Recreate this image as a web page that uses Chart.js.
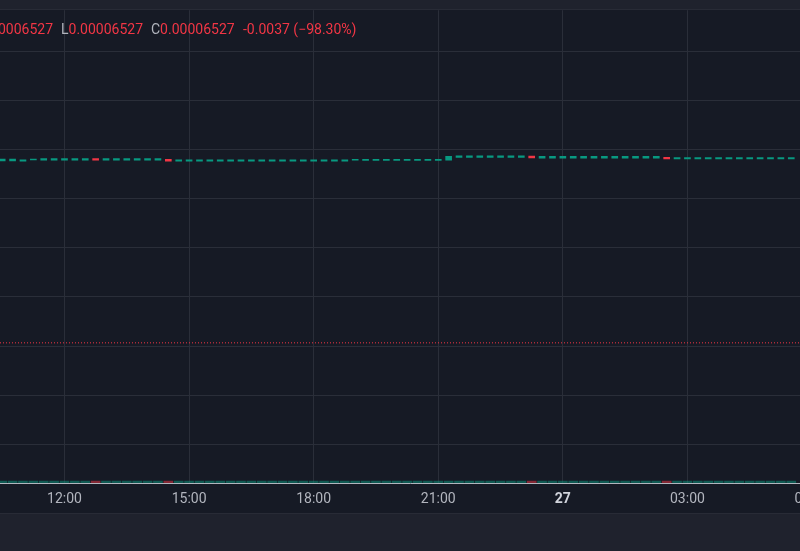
<!DOCTYPE html>
<html lang="es">
<head>
<meta charset="utf-8">
<title>Velas 15m</title>
<script src="https://cdn.jsdelivr.net/npm/chart.js@4.4.1/dist/chart.umd.min.js"></script>
<style>
  html, body { margin: 0; padding: 0; width: 800px; height: 551px; overflow: hidden; background: #1f222d; }
  #wrap { position: relative; width: 900px; height: 513px; }
  #grafico { display: block; }
  #panel { height: 37px; border-top: 1px solid #282b36; background: #1f222d; }
</style>
</head>
<body>
<div id="wrap"><canvas id="grafico" width="900" height="513"></canvas></div>
<div id="panel"></div>
<script>
// Velas de 15 minutos (hora de apertura)
const horas = [
    '10:30', '10:45', '11:00', '11:15', '11:30', '11:45',
    '12:00', '12:15', '12:30', '12:45', '13:00', '13:15', '13:30', '13:45', '14:00', '14:15', '14:30', '14:45',
    '15:00', '15:15', '15:30', '15:45', '16:00', '16:15', '16:30', '16:45', '17:00', '17:15', '17:30', '17:45',
    '18:00', '18:15', '18:30', '18:45', '19:00', '19:15', '19:30', '19:45', '20:00', '20:15', '20:30', '20:45',
    '21:00', '21:15', '21:30', '21:45', '22:00', '22:15', '22:30', '22:45', '23:00', '23:15', '23:30', '23:45',
    '00:00', '00:15', '00:30', '00:45', '01:00', '01:15', '01:30', '01:45', '02:00', '02:15', '02:30', '02:45',
    '03:00', '03:15', '03:30', '03:45', '04:00', '04:15', '04:30', '04:45', '05:00', '05:15', '05:30'
];

const aperturas = [
    0.003768, 0.003768, 0.003762, 0.003786, 0.003782, 0.003782,
    0.003782, 0.003782, 0.003782, 0.003817, 0.003782, 0.003782, 0.003782, 0.003782, 0.003782, 0.003782, 0.003800, 0.003760,
    0.003760, 0.003760, 0.003760, 0.003760, 0.003760, 0.003760, 0.003760, 0.003760, 0.003760, 0.003760, 0.003760, 0.003760,
    0.003760, 0.003760, 0.003760, 0.003760, 0.003780, 0.003775, 0.003775, 0.003775, 0.003775, 0.003775, 0.003775, 0.003775,
    0.003775, 0.003782, 0.003837, 0.003837, 0.003837, 0.003837, 0.003837, 0.003837, 0.003837, 0.003864, 0.003823, 0.003823,
    0.003823, 0.003823, 0.003823, 0.003823, 0.003823, 0.003823, 0.003823, 0.003823, 0.003823, 0.003823, 0.003840, 0.003809,
    0.003809, 0.003809, 0.003809, 0.003809, 0.003809, 0.003809, 0.003809, 0.003809, 0.003809, 0.003809, 0.003809
];

const cierres = [
    0.003803, 0.003803, 0.003788, 0.003793, 0.003817, 0.003817,
    0.003817, 0.003817, 0.003817, 0.003782, 0.003817, 0.003817, 0.003817, 0.003817, 0.003817, 0.003817, 0.003760, 0.003790,
    0.003790, 0.003790, 0.003790, 0.003790, 0.003790, 0.003790, 0.003790, 0.003790, 0.003790, 0.003790, 0.003790, 0.003790,
    0.003790, 0.003790, 0.003790, 0.003790, 0.003788, 0.003800, 0.003800, 0.003800, 0.003800, 0.003800, 0.003800, 0.003800,
    0.003800, 0.003858, 0.003870, 0.003870, 0.003870, 0.003870, 0.003870, 0.003870, 0.003870, 0.003830, 0.003858, 0.003858,
    0.003858, 0.003858, 0.003858, 0.003858, 0.003858, 0.003858, 0.003858, 0.003858, 0.003858, 0.003858, 0.003809, 0.003837,
    0.003837, 0.003837, 0.003837, 0.003837, 0.003837, 0.003837, 0.003837, 0.003837, 0.003837, 0.003837, 0.003837
];

// Volumen casi invisible en la franja inferior
const volumenes = [
    2, 2, 2, 2, 2, 2,
    2, 2, 2, 2, 2, 2, 2, 2, 2, 2, 2, 2,
    2, 2, 2, 2, 2, 2, 2, 2, 2, 2, 2, 2,
    2, 2, 2, 2, 2, 2, 2, 2, 2, 2, 2, 2,
    2, 2, 2, 2, 2, 2, 2, 2, 2, 2, 2, 2,
    2, 2, 2, 2, 2, 2, 2, 2, 2, 2, 2, 2,
    2, 2, 2, 2, 2, 2, 2, 2, 2, 2, 2
];

// Eje de tiempo (horas desde las 00:00 del día 26)
const marcasHora = [12, 15, 18, 21, 24, 27, 30];
const etiquetasHora = ['12:00', '15:00', '18:00', '21:00', '27', '03:00', '06:00'];

// Eje de precio
const marcasPrecio = [-0.002, -0.001, 0, 0.001, 0.002, 0.003, 0.004, 0.005, 0.006];

// Leyenda superior
const ultimoPrecio = 0.00006527;
const textoPrecio = '0.00006527';
const textoCambio = '-0.0037 (\u221298.30%)';

const verde = '#089981';
const rojo = '#f23645';
const gris = '#b2b5be';

const xMin = 10.447;
const xMax = 30.192;

function horaAEje(t) {
    const [h, m] = t.split(':').map(Number);
    const v = h + m / 60;
    return v < 10 ? v + 24 : v; // después de medianoche
}

const velas = horas.map((t, i) => ({ x: horaAEje(t), y: [aperturas[i], cierres[i]] }));
const coloresVelas = horas.map((t, i) => cierres[i] >= aperturas[i] ? verde : rojo);
const barrasVolumen = horas.map((t, i) => ({ x: horaAEje(t), y: volumenes[i] }));
const coloresVolumen = horas.map((t, i) => cierres[i] >= aperturas[i] ? 'rgba(8,153,129,0.5)' : 'rgba(242,54,69,0.5)');

const fondo = {
    id: 'fondo',
    beforeDraw(chart) {
        const c = chart.ctx;
        c.save();
        c.fillStyle = '#161a25';
        c.fillRect(0, 0, chart.width, chart.height);
        c.fillStyle = '#1f222d';
        c.fillRect(0, 0, chart.width, 10);
        c.fillStyle = '#282b36';
        c.fillRect(0, 9, chart.width, 1);
        c.restore();
    },
    afterDraw(chart) {
        const c = chart.ctx;
        c.save();
        c.font = '14px Roboto';
        c.textBaseline = 'middle';
        const y = 30;
        // H (cortado por la izquierda)
        c.textAlign = 'right';
        c.fillStyle = rojo;
        c.fillText(textoPrecio, 53, y);
        c.textAlign = 'left';
        c.fillStyle = gris;
        c.fillText('L', 61, y);
        c.fillStyle = rojo;
        c.fillText(textoPrecio, 61 + c.measureText('L').width, y);
        c.fillStyle = gris;
        c.fillText('C', 151, y);
        c.fillStyle = rojo;
        c.fillText(textoPrecio, 151 + c.measureText('C').width, y);
        c.fillText(textoCambio, 243, y);
        c.restore();
    }
};

const ctx = document.getElementById('grafico').getContext('2d');
new Chart(ctx, {
    data: {
        datasets: [
            {
                type: 'line',
                label: 'Último precio',
                data: [{ x: xMin, y: ultimoPrecio }, { x: xMax, y: ultimoPrecio }],
                yAxisID: 'y',
                borderColor: rojo,
                borderWidth: 1,
                borderDash: [1, 2],
                pointRadius: 0,
                order: 0
            },
            {
                type: 'bar',
                label: 'Velas',
                data: velas,
                yAxisID: 'y',
                backgroundColor: coloresVelas,
                barThickness: 6,
                minBarLength: 1,
                grouped: false,
                order: 1
            },
            {
                type: 'bar',
                label: 'Volumen',
                data: barrasVolumen,
                yAxisID: 'v',
                backgroundColor: coloresVolumen,
                barThickness: 9,
                grouped: false,
                order: 2
            }
        ]
    },
    options: {
        responsive: false,
        animation: false,
        events: [],
        devicePixelRatio: 1,
        layout: { padding: { top: 10, left: 0, right: 0, bottom: 0 } },
        plugins: {
            legend: { display: false },
            tooltip: { enabled: false }
        },
        scales: {
            x: {
                type: 'linear',
                position: 'bottom',
                min: xMin,
                max: xMax,
                offset: false,
                afterBuildTicks: (scale) => { scale.ticks = marcasHora.map(v => ({ value: v })); },
                afterFit: (scale) => { scale.height = 30; },
                grid: { color: '#2a2e39', drawTicks: false, offset: false },
                border: { color: '#b2b5be', width: 1 },
                ticks: {
                    autoSkip: false,
                    maxRotation: 0,
                    padding: 8,
                    callback: (value, index) => etiquetasHora[index],
                    color: (c) => c.tick && c.tick.value === 24 ? '#d1d4dc' : gris,
                    font: (c) => ({ family: 'Roboto', size: 14, weight: c.tick && c.tick.value === 24 ? 'bold' : 'normal' })
                }
            },
            y: {
                type: 'linear',
                position: 'right',
                min: -0.002787,
                max: 0.006834,
                afterBuildTicks: (scale) => { scale.ticks = marcasPrecio.map(v => ({ value: v })); },
                afterFit: (scale) => { scale.width = 80; },
                grid: { color: '#2a2e39', drawTicks: false },
                border: { display: false },
                ticks: {
                    color: gris,
                    font: { family: 'Roboto', size: 12 },
                    callback: (value) => value.toFixed(4)
                }
            },
            v: {
                type: 'linear',
                display: false,
                min: 0,
                max: 473
            }
        }
    },
    plugins: [fondo]
});
</script>
</body>
</html>
